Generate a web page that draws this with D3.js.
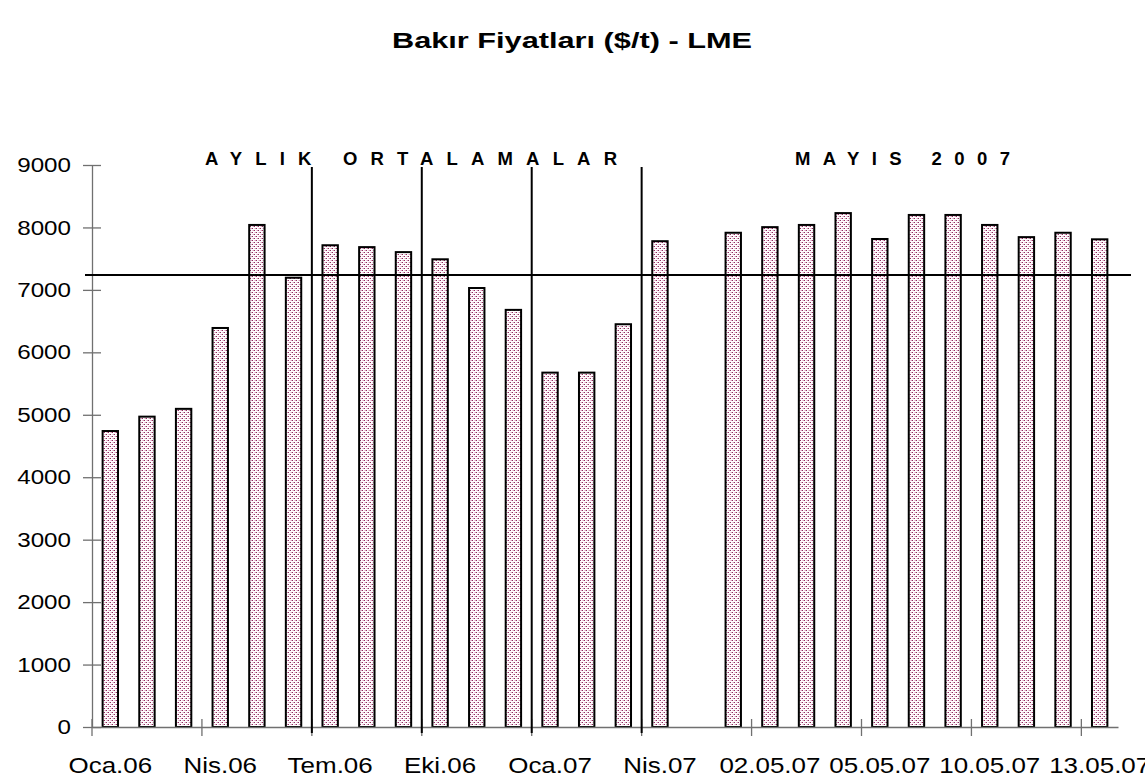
<!DOCTYPE html>
<html lang="tr">
<head>
<meta charset="UTF-8">
<title>Bakır Fiyatları</title>
<script src="https://d3js.org/d3.v7.min.js"></script>
<style>
    body { margin: 0; background: #fff; }
    svg { display: block; font-family: "Liberation Sans", Arial, sans-serif; }
    .axis path, .axis line { stroke: #707070; stroke-width: 1.3px; }
    .axis text { fill: #000; }
</style>
</head>
<body>
<svg id="chart" width="1145" height="781"></svg>
<script>
    // Aylık ortalamalar (Oca.06 - Nis.07)
    const months = ["Oca.06", "Şub.06", "Mar.06", "Nis.06", "May.06", "Haz.06", "Tem.06", "Ağu.06",
        "Eyl.06", "Eki.06", "Kas.06", "Ara.06", "Oca.07", "Şub.07", "Mar.07", "Nis.07"];
    const monthValues = [4740, 4970, 5095, 6390, 8040, 7195, 7715, 7685, 7605, 7490, 7030, 6680,
        5675, 5675, 6450, 7780];

    // Mayıs 2007 günlük fiyatlar
    const days = ["01.05.07", "02.05.07", "03.05.07", "04.05.07", "05.05.07", "08.05.07",
        "09.05.07", "10.05.07", "11.05.07", "12.05.07", "13.05.07"];
    const dayValues = [7915, 8005, 8040, 8230, 7815, 8200, 8200, 8040, 7845, 7915, 7810];

    const yTicks = [0, 1000, 2000, 3000, 4000, 5000, 6000, 7000, 8000, 9000];
    const refValue = 7240;          // yatay çizgi
    const dividers = [6, 9, 12, 15]; // dikey ayraçlar (kategori sınırı)

    // boş bir kategori iki grubu ayırıyor
    const labels = months.concat([""], days);
    const values = monthValues.concat([null], dayValues);
    const idx = d3.range(labels.length);

    const svg = d3.select("#chart");
    const plotLeft = 92, plotRight = 1118, plotTop = 165, plotBottom = 727;

    const x = d3.scaleBand().domain(idx).range([plotLeft, plotRight])
        .paddingInner(0.58).paddingOuter(0.29);
    const step = x.step();
    const boundary = k => plotLeft + k * step;

    const y = d3.scaleLinear().domain([0, 9000]).range([plotBottom, plotTop]);

    // dolgu deseni
    const pat = svg.append("defs").append("pattern")
        .attr("id", "dots").attr("width", 4).attr("height", 4)
        .attr("patternUnits", "userSpaceOnUse");
    pat.append("rect").attr("width", 4).attr("height", 4).attr("fill", "#fff");
    [[0, 0, "#8c2c5e"], [2, 2, "#8c2c5e"], [1, 2, "#d99bbb"], [3, 0, "#d99bbb"],
     [2, 0, "#eed0df"], [0, 2, "#eed0df"]].forEach(p => {
        pat.append("rect").attr("x", p[0]).attr("y", p[1]).attr("width", 1).attr("height", 1)
            .attr("fill", p[2]);
    });

    // başlık
    svg.append("text")
        .attr("x", 572).attr("y", 48)
        .attr("text-anchor", "middle")
        .attr("font-size", 22).attr("font-weight", "bold")
        .attr("textLength", 360).attr("lengthAdjust", "spacingAndGlyphs")
        .text("Bakır Fiyatları ($/t) - LME");

    // Y ekseni
    const yAxis = svg.append("g").attr("class", "axis")
        .attr("transform", `translate(${plotLeft},0)`)
        .call(d3.axisLeft(y).tickValues(yTicks).tickFormat(d3.format("d"))
            .tickSizeInner(9).tickSizeOuter(0).tickPadding(12));
    yAxis.selectAll(".tick line").attr("x1", 9);
    yAxis.selectAll("text").attr("font-size", 20.5).attr("font-family", "Liberation Sans");

    // barlar
    svg.append("g").selectAll("rect")
        .data(idx.filter(i => values[i] !== null))
        .join("rect")
        .attr("x", i => x(i))
        .attr("y", i => y(values[i]))
        .attr("width", x.bandwidth())
        .attr("height", i => y(0) - y(values[i]))
        .attr("fill", "url(#dots)")
        .attr("stroke", "#000")
        .attr("stroke-width", 2);

    // X ekseni
    const xAxis = svg.append("g").attr("class", "axis")
        .attr("transform", `translate(0,${plotBottom})`)
        .call(d3.axisBottom(x).tickSizeInner(0).tickSizeOuter(0).tickPadding(30)
            .tickFormat(i => i % 3 === 0 ? labels[i] : ""));
    xAxis.selectAll("text").attr("font-size", 22).attr("font-family", "Liberation Sans");

    svg.append("g").attr("class", "axis")
        .selectAll("line")
        .data(d3.range(0, labels.length, 3))
        .join("line")
        .attr("x1", k => boundary(k)).attr("x2", k => boundary(k))
        .attr("y1", plotBottom - 8).attr("y2", plotBottom + 9);

    // etiketleri yatayda genişlet
    svg.selectAll(".axis text").each(function () {
        const w = this.getComputedTextLength();
        if (w > 0) d3.select(this).attr("textLength", w * 1.18).attr("lengthAdjust", "spacingAndGlyphs");
    });

    // yatay referans çizgisi
    svg.append("line")
        .attr("x1", plotLeft - 7).attr("x2", 1131)
        .attr("y1", y(refValue)).attr("y2", y(refValue))
        .attr("stroke", "#000").attr("stroke-width", 2);

    // dikey ayraçlar
    svg.append("g").selectAll("line")
        .data(dividers)
        .join("line")
        .attr("x1", k => boundary(k)).attr("x2", k => boundary(k))
        .attr("y1", plotTop + 2).attr("y2", plotBottom + 6)
        .attr("stroke", "#000").attr("stroke-width", 2);

    // grup başlıkları
    svg.append("text")
        .attr("x", 205).attr("y", 165)
        .attr("font-size", 18.5).attr("font-weight", "bold")
        .attr("textLength", 412).attr("lengthAdjust", "spacing")
        .text("AYLIK ORTALAMALAR");
    svg.append("text")
        .attr("x", 795).attr("y", 165)
        .attr("font-size", 18.5).attr("font-weight", "bold")
        .attr("textLength", 215).attr("lengthAdjust", "spacing")
        .text("MAYIS 2007");
</script>
</body>
</html>
